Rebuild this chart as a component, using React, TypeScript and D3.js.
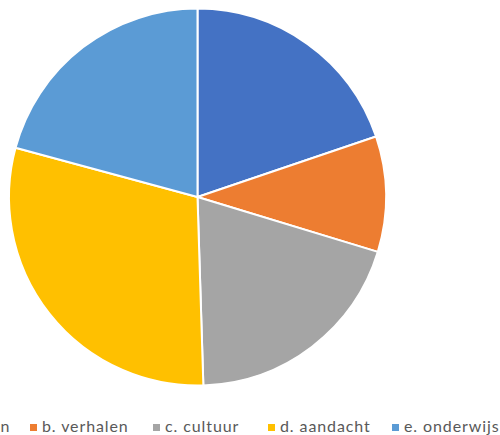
import React from "react";
import * as d3 from "d3";

const categories = ["a. kennismaken", "b. verhalen", "c. cultuur", "d. aandacht", "e. onderwijs"];
const values = [20, 10, 20, 30, 21];
const colors = ["#4472C4", "#ED7D31", "#A5A5A5", "#FFC000", "#5B9BD5"];
const legendX = [-121, 30, 153, 268, 392];

export default function App() {
  const cx = 197.5, cy = 197, r = 188.5;
  const pie = d3.pie<number>().sort(null).value((d) => d);
  const arcs = pie(values);
  const arc = d3.arc<d3.PieArcDatum<number>>().innerRadius(0).outerRadius(r);
  return (
    <svg width={500} height={435} style={{ position: "absolute", left: 0, top: 0, fontFamily: "Lato, 'Open Sans', sans-serif" }}>
      <rect width={500} height={435} fill="#fff" />
      <g transform={`translate(${cx},${cy})`}>
        {arcs.map((a, i) => (
          <path key={i} d={arc(a) || ""} fill={colors[i]} stroke="#fff" strokeWidth={2} strokeLinejoin="round" />
        ))}
      </g>
      {categories.map((c, i) => (
        <g key={c} transform={`translate(${legendX[i]},0)`}>
          <rect x={0} y={424} width={7} height={7} fill={colors[i]} />
          <text x={12} y={432} fontSize={16} letterSpacing={0.9} fill="#595959">{c}</text>
        </g>
      ))}
    </svg>
  );
}
